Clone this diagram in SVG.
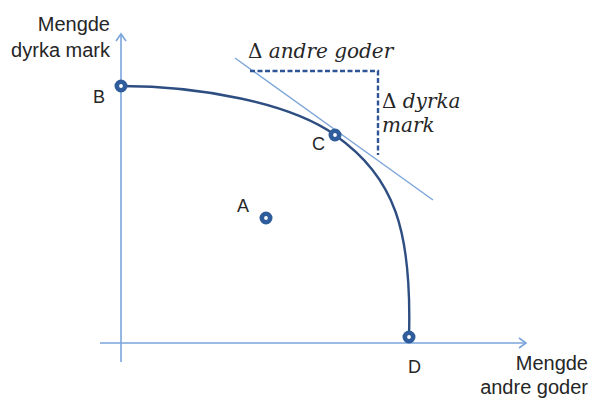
<svg xmlns="http://www.w3.org/2000/svg" width="592" height="398" viewBox="0 0 592 398">
<defs>
<style>
.axis{stroke:#7aa5dc;stroke-width:1.6;fill:none}
.lbl{font-family:"Liberation Sans",Arial,sans-serif;font-size:20px;fill:#262626}
.pt{font-family:"Liberation Sans",Arial,sans-serif;font-size:18px;fill:#262626}
.math{font-family:"DejaVu Serif",serif;font-style:italic;font-size:20px;fill:#262626}
.up{font-style:normal}
.ring{fill:#ffffff;stroke:#2f5d9c;stroke-width:4.6}
</style>
<marker id="arr" viewBox="0 0 12 12" refX="10" refY="6" markerWidth="12" markerHeight="12" markerUnits="userSpaceOnUse" orient="auto">
<path d="M3,1 L10,6 L3,11" fill="none" stroke="#7aa5dc" stroke-width="1.6"/>
</marker>
</defs>
<rect width="592" height="398" fill="#ffffff"/>
<g id="connectors">
<line id="y-axis" class="axis" x1="121" y1="362" x2="121" y2="34" marker-end="url(#arr)"/>
<line id="x-axis" class="axis" x1="100" y1="343" x2="526" y2="343" marker-end="url(#arr)"/>
<path id="ppf" d="M121,86 C200,86 290,103 335,135 C395,178 412,230 409,337" fill="none" stroke="#2e4e82" stroke-width="2.4"/>
<line id="tangent" x1="235" y1="58" x2="433" y2="200" stroke="#7ea6da" stroke-width="1.5"/>
<path id="delta" d="M250,71 L378,71 L378,155" fill="none" stroke="#2f5597" stroke-width="2.4" stroke-dasharray="5,2.5"/>
</g>
<g id="axis-labels">
<text class="lbl" x="110" y="31" text-anchor="end">Mengde</text>
<text class="lbl" x="110" y="57" text-anchor="end">dyrka mark</text>
<text class="lbl" x="588" y="370" text-anchor="end">Mengde</text>
<text class="lbl" x="588" y="394" text-anchor="end">andre goder</text>
</g>
<g id="delta-labels">
<text class="math" x="248" y="58"><tspan class="up">Δ</tspan> andre goder</text>
<text class="math" x="382" y="108"><tspan class="up">Δ</tspan> dyrka</text>
<text class="math" x="382" y="132">mark</text>
</g>
<g id="node-B">
<circle class="ring" cx="121" cy="86" r="4.2"/>
<text class="pt" x="93" y="103">B</text>
</g>
<g id="node-C">
<circle class="ring" cx="335" cy="135" r="4.2"/>
<text class="pt" x="312" y="150">C</text>
</g>
<g id="node-A">
<circle class="ring" cx="266" cy="218" r="4.2"/>
<text class="pt" x="237" y="212">A</text>
</g>
<g id="node-D">
<circle class="ring" cx="409" cy="337" r="4.2"/>
<text class="pt" x="408" y="373">D</text>
</g>
</svg>
